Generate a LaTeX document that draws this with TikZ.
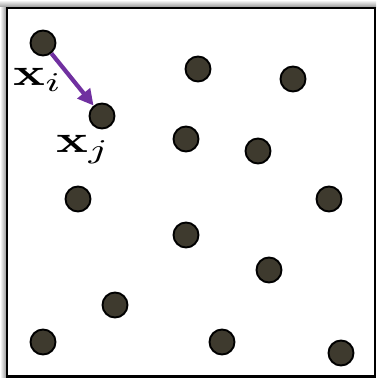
\documentclass[tikz,border=0pt]{standalone}
\usepackage{amsmath}
\usetikzlibrary{arrows.meta}
\definecolor{dotfill}{RGB}{62,58,46}
\definecolor{arrowpurple}{RGB}{112,48,160}
\tikzset{
  pt/.style={circle, draw=black, line width=1.1pt, fill=dotfill, minimum size=0.5cm, inner sep=0pt},
  lab/.style={xscale=3.0, yscale=2.2, transform shape, inner sep=0pt, anchor=base west}
}

\begin{document}
\begin{tikzpicture}[x=0.02cm, y=-0.02cm]
            \useasboundingbox (0,0) rectangle (377,378);
            % shadow and frame
            \shade[top color=white, bottom color=black!45] (0,0) rectangle (376,8);
            \shade[left color=white, right color=black!45] (0,8) rectangle (7,377);
            \draw[line width=1.3pt] (7,8) rectangle (375,376.5);

            \node[pt] (xi) at (43, 43) {};
            \node[pt] (xj) at (102, 116) {};
            \node[pt] (p3) at (198, 69) {};
            \node[pt] (p4) at (293, 79) {};
            \node[pt] (p5) at (186, 139) {};
            \node[pt] (p6) at (258, 151) {};
            \node[pt] (p7) at (78, 199) {};
            \node[pt] (p8) at (329, 199) {};
            \node[pt] (p9) at (186, 235) {};
            \node[pt] (p10) at (269, 270) {};
            \node[pt] (p11) at (115, 305) {};
            \node[pt] (p12) at (43, 342) {};
            \node[pt] (p13) at (222, 342) {};
            \node[pt] (p14) at (341, 353) {};

            \node[lab] (lxi) at (12, 86) {$\mathbf{x}_i$};
            \node[lab] (lxj) at (55, 153) {$\mathbf{x}_j$};

            \draw[-{Triangle[length=9pt, width=9pt]}, arrowpurple, line width=2.4pt] (xi) -- (xj);
        \end{tikzpicture}
\end{document}
